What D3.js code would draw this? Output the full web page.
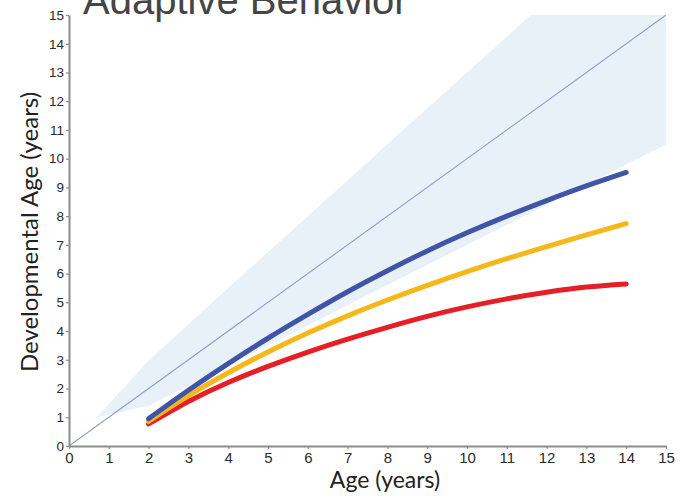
<!DOCTYPE html>
<html>
<head>
<meta charset="utf-8">
<script src="https://cdn.jsdelivr.net/npm/d3@7"></script>
<style>
  html, body { margin: 0; padding: 0; background: #fff; }
  svg { display: block; }
</style>
</head>
<body>
<svg id="chart" width="681" height="496"></svg>
<script>
// Chronological age (years) at which developmental age is plotted
const ages = [2, 3, 4, 5, 6, 7, 8, 9, 10, 11, 12, 13, 14];
// Developmental age trajectories, one per group
const blueSeries   = [0.95, 1.94, 2.87, 3.75, 4.58, 5.37, 6.10, 6.79, 7.42, 8.00, 8.54, 9.05, 9.52];
const yellowSeries = [0.86, 1.75, 2.55, 3.27, 3.93, 4.53, 5.08, 5.59, 6.07, 6.52, 6.94, 7.35, 7.74];
const redSeries    = [0.77, 1.55, 2.21, 2.77, 3.27, 3.72, 4.13, 4.51, 4.84, 5.12, 5.35, 5.53, 5.64];
// Typical-range band around the identity line
const bandAges = [0.7, 2, 4, 6, 8, 10, 12, 14, 15];
const bandHigh = [1.0, 2.98, 5.5, 8.0, 10.5, 13.0, 15.5, 18.0, 19.3];
const bandLow  = [1.0, 1.4, 2.8, 4.2, 5.6, 7.0, 8.4, 9.8, 10.5];
// Identity line (developmental age == chronological age)
const identity = [0, 15];
// Axis ticks
const xTicks = d3.range(0, 16);
const yTicks = d3.range(0, 16);

const svg = d3.select("#chart");
const x = d3.scaleLinear().domain([0, 15]).range([69, 666]);
const y = d3.scaleLinear().domain([0, 15]).range([446, 15]);

// Title, running off the top edge
svg.append("text")
  .attr("x", 83).attr("y", 14)
  .attr("font-family", "Liberation Sans, Arial, sans-serif")
  .attr("font-size", 40)
  .attr("fill", "#454545")
  .text("Adaptive Behavior");

svg.append("clipPath").attr("id", "plot-clip")
  .append("rect")
  .attr("x", x(0)).attr("y", y(15))
  .attr("width", x(15) - x(0)).attr("height", y(0) - y(15));

const plot = svg.append("g").attr("clip-path", "url(#plot-clip)");

const bandData = bandAges.map((a, i) => ({ a, lo: bandLow[i], hi: bandHigh[i] }));
plot.append("path")
  .datum(bandData)
  .attr("fill", "#e8f0f8")
  .attr("d", d3.area()
    .x(d => x(d.a))
    .y0(d => y(d.lo))
    .y1(d => y(d.hi)));

plot.append("line")
  .attr("x1", x(identity[0])).attr("y1", y(identity[0]))
  .attr("x2", x(identity[1])).attr("y2", y(identity[1]))
  .attr("stroke", "#8aa0c6")
  .attr("stroke-width", 1.1);

const line = d3.line()
  .x(d => x(d[0]))
  .y(d => y(d[1]))
  .curve(d3.curveNatural);

const series = [
  { values: redSeries,    color: "#e51f26" },
  { values: yellowSeries, color: "#f6b719" },
  { values: blueSeries,   color: "#4155a6" }
];
series.forEach(s => {
  plot.append("path")
    .datum(ages.map((a, i) => [a, s.values[i]]))
    .attr("fill", "none")
    .attr("stroke", s.color)
    .attr("stroke-width", 5)
    .attr("stroke-linecap", "round")
    .attr("d", line);
});

// Axes
const xAxis = svg.append("g")
  .attr("transform", `translate(0,${y(0)})`)
  .call(d3.axisBottom(x).tickValues(xTicks).tickFormat(d3.format("d")).tickSizeInner(3).tickSizeOuter(0).tickPadding(3));
const yAxis = svg.append("g")
  .attr("transform", `translate(${x(0)},0)`)
  .call(d3.axisLeft(y).tickValues(yTicks).tickFormat(d3.format("d")).tickSizeInner(3).tickSizeOuter(0).tickPadding(2));

[xAxis, yAxis].forEach(g => {
  g.select(".domain").attr("stroke", "#8c8c8c").attr("stroke-width", 2);
  g.selectAll(".tick line").attr("stroke", "#8c8c8c").attr("stroke-width", 1.2);
  g.selectAll(".tick text")
    .attr("fill", "#2a2a2a")
    .attr("font-family", "Liberation Sans, Arial, sans-serif");
});
xAxis.selectAll(".tick text").attr("font-size", 15);
yAxis.selectAll(".tick text").attr("font-size", 13.5);

// Axis titles
svg.append("text")
  .attr("x", 385).attr("y", 488)
  .attr("text-anchor", "middle")
  .attr("font-family", "Lato, 'Open Sans', sans-serif")
  .attr("font-size", 23)
  .attr("fill", "#222")
  .text("Age (years)");

svg.append("text")
  .attr("transform", `translate(38,232) rotate(-90)`)
  .attr("text-anchor", "middle")
  .attr("font-family", "Lato, 'Open Sans', sans-serif")
  .attr("font-size", 24)
  .attr("fill", "#222")
  .text("Developmental Age (years)");
</script>
</body>
</html>
